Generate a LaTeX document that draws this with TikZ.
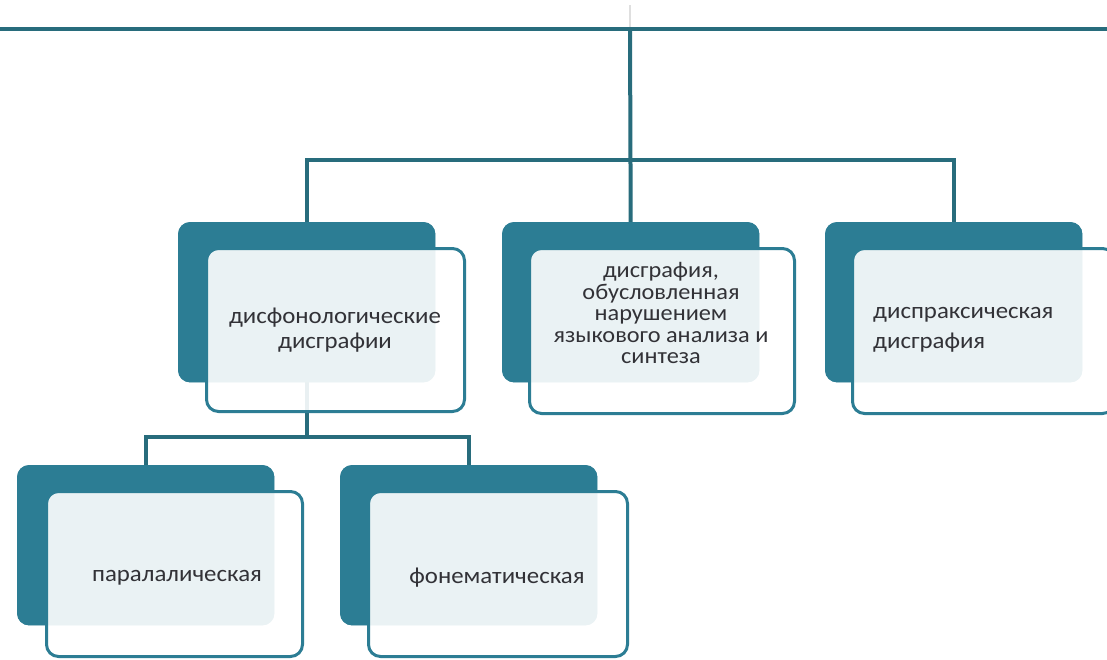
\documentclass[tikz,border=0pt]{standalone}
\usepackage{fontspec}
\setmainfont{Carlito}[FakeStretch=1.08]
\definecolor{teal1}{RGB}{44,125,148}
\definecolor{line1}{RGB}{40,108,124}
\definecolor{txt}{RGB}{50,50,55}
\tikzset{
  backbox/.style={rectangle, rounded corners=12pt, fill=teal1, draw=none, minimum width=257pt, minimum height=160pt, anchor=north west, inner sep=0pt},
  frontbox/.style={rectangle, rounded corners=12pt, fill=white, fill opacity=0.9, draw=teal1, line width=3pt, anchor=north west, inner sep=0pt},
  conn/.style={draw=line1, line width=4pt},
  lbl/.style={text=txt, font=\fontsize{23}{26}\selectfont, align=center, inner sep=0pt}
}
\begin{document}
\begin{tikzpicture}[x=1pt,y=-1pt]
\useasboundingbox (0,0) rectangle (1107,659);
\fill[white] (0,0) rectangle (1107,659);
% coordinates
\coordinate (L) at (0,29);
\coordinate (R) at (1107,29);
\coordinate (topj) at (630,29);
\coordinate (faint) at (630,5);
% back boxes
\node[backbox] (b1) at (178,222) {};
\node[backbox] (b2) at (502,222) {};
\node[backbox] (b3) at (825,222) {};
\node[backbox] (b4) at (17,465) {};
\node[backbox] (b5) at (340,465) {};
% connectors
\draw[gray!25, line width=1.5pt] (faint) -- (topj);
\draw[conn] (L) -- (R);
\draw[conn] (topj) -- (b2.north);
\draw[conn] (b1.north) -- ++(0,-62) -| (b3.north);
\draw[conn] (b1.south) -- ++(0,55) -| (b4.north);
\draw[conn] (b1.south) ++(0,55) -| (b5.north);
% redraw back boxes over connector ends
\foreach \b in {b1,b2,b3,b4,b5} {\fill[teal1, rounded corners=12pt] (\b.north west) rectangle (\b.south east);}
% front boxes
\node[frontbox, minimum width=258pt, minimum height=163pt] (f1) at (205,247) {};
\node[frontbox, minimum width=265pt, minimum height=165pt] (f2) at (528,247) {};
\node[frontbox, minimum width=262pt, minimum height=165pt] (f3) at (851,247) {};
\node[frontbox, minimum width=256pt, minimum height=165pt] (f4) at (45,490) {};
\node[frontbox, minimum width=259pt, minimum height=165pt] (f5) at (367,490) {};
% texts
\node[lbl, font=\fontsize{23}{25}\selectfont] (t1) at (335,330) {дисфонологические\\дисграфии};
\node[lbl, font=\fontsize{22.5}{21.5}\selectfont] (t2) at (661,313) {дисграфия,\\обусловленная\\нарушением\\языкового анализа и\\синтеза};
\node[lbl, align=left, anchor=west, font=\fontsize{23}{30}\selectfont] (t3) at (873,330) {диспраксическая\\дисграфия};
\node[lbl] (t4) at (177,578) {паралалическая};
\node[lbl] (t5) at (497,578) {фонематическая};
\end{tikzpicture}
\end{document}
